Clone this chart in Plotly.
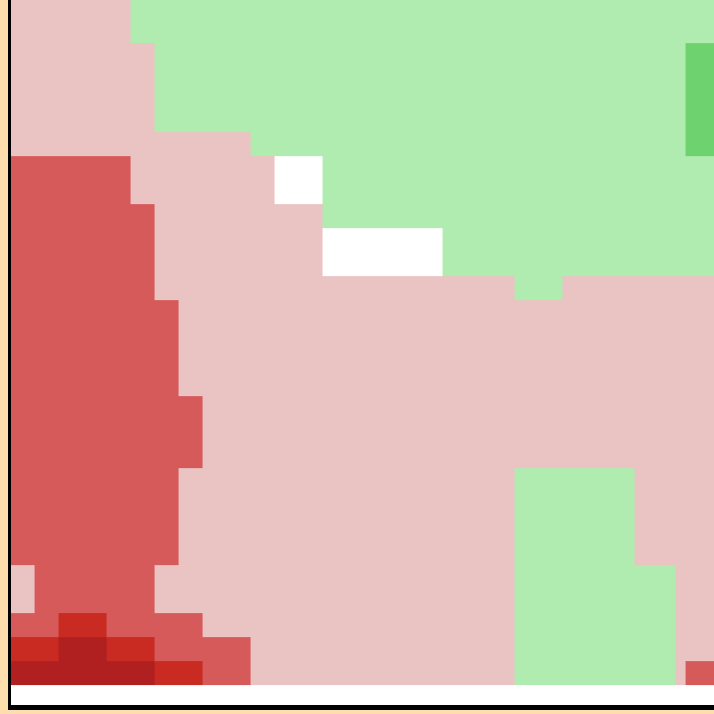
import plotly.graph_objects as go

# Bin edges of the grid (irregular bins near the upper / right ends)
x_edges = [0, 1, 2, 4, 5, 6, 7, 8, 10, 11, 13, 18, 21, 23, 26, 27.72, 28.14, 29.4]
y_edges = [0, 1, 2, 3, 5, 9, 12, 16, 17, 19, 20, 22, 23, 26.72, 28.6]

# Change level per cell: -4 strong decline ... 0 neutral ... 2 strong gain
# rows listed from the lowest bin upward
z_levels = [
    [-4, -4, -4, -4, -4, -3, -3, -2, -1, -1, -1, -1, 1, 1, 1, -1, -2],
    [-3, -3, -4, -3, -3, -2, -2, -2, -1, -1, -1, -1, 1, 1, 1, -1, -1],
    [-2, -2, -3, -2, -2, -2, -2, -1, -1, -1, -1, -1, 1, 1, 1, -1, -1],
    [-1, -2, -2, -2, -2, -1, -1, -1, -1, -1, -1, -1, 1, 1, 1, -1, -1],
    [-2, -2, -2, -2, -2, -2, -1, -1, -1, -1, -1, -1, 1, 1, -1, -1, -1],
    [-2, -2, -2, -2, -2, -2, -2, -1, -1, -1, -1, -1, -1, -1, -1, -1, -1],
    [-2, -2, -2, -2, -2, -2, -1, -1, -1, -1, -1, -1, -1, -1, -1, -1, -1],
    [-2, -2, -2, -2, -2, -1, -1, -1, -1, -1, -1, -1, 1, -1, -1, -1, -1],
    [-2, -2, -2, -2, -2, -1, -1, -1, -1, -1, 0, 1, 1, 1, 1, 1, 1],
    [-2, -2, -2, -2, -2, -1, -1, -1, -1, -1, 1, 1, 1, 1, 1, 1, 1],
    [-2, -2, -2, -2, -1, -1, -1, -1, -1, 0, 1, 1, 1, 1, 1, 1, 1],
    [-1, -1, -1, -1, -1, -1, -1, -1, 1, 1, 1, 1, 1, 1, 1, 1, 2],
    [-1, -1, -1, -1, -1, 1, 1, 1, 1, 1, 1, 1, 1, 1, 1, 1, 2],
    [-1, -1, -1, -1, 1, 1, 1, 1, 1, 1, 1, 1, 1, 1, 1, 1, 1],
]

level_values = [-4, -3, -2, -1, 0, 1, 2]
level_colors = ["#B02020", "#C92A22", "#D75A5A", "#EAC3C3", "#FFFFFF", "#B0EBB0", "#6ED36E"]

# stepped colorscale: one flat band per level
n = len(level_values)
colorscale = []
for i, c in enumerate(level_colors):
    colorscale.append([i / n, c])
    colorscale.append([(i + 1) / n, c])

fig = go.Figure(
    go.Heatmap(
        x=x_edges,
        y=y_edges,
        z=z_levels,
        colorscale=colorscale,
        zmin=level_values[0] - 0.5,
        zmax=level_values[-1] + 0.5,
        showscale=False,
        hoverinfo="skip",
    )
)

fig.update_layout(
    width=714,
    height=714,
    margin=dict(l=11, r=0, t=0, b=9, autoexpand=False),
    paper_bgcolor="#FFDEAD",
    plot_bgcolor="#FFFFFF",
    showlegend=False,
)
fig.update_xaxes(
    range=[0.02, 29.31],
    showgrid=False,
    zeroline=False,
    showticklabels=False,
    ticks="",
    showline=True,
    linecolor="black",
    linewidth=4.6,
    automargin=False,
)
fig.update_yaxes(
    range=[-0.85, 28.52],
    showgrid=False,
    zeroline=False,
    showticklabels=False,
    ticks="",
    showline=True,
    linecolor="black",
    linewidth=2.7,
    automargin=False,
)

fig.write_html("out.html")
